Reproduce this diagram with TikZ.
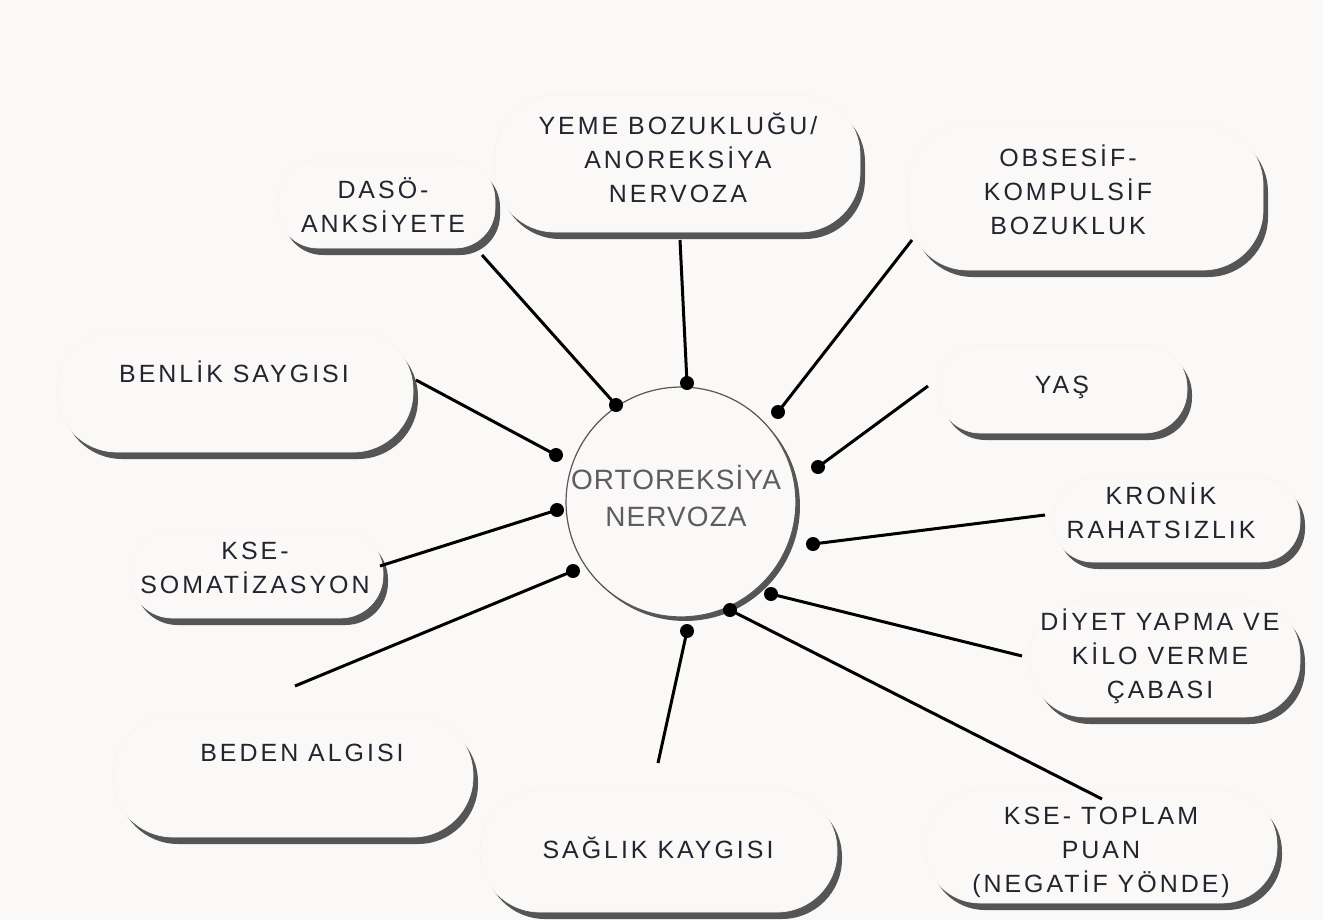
\documentclass[tikz,border=0pt]{standalone}
\usepackage{fontspec}
\usetikzlibrary{calc}
\newfontfamily\lblfont[LetterSpace=12]{Liberation Sans}
\newfontfamily\midfont[LetterSpace=4]{Liberation Sans}
\definecolor{paper}{RGB}{250,249,247}
\definecolor{shadowgray}{RGB}{85,85,85}
\definecolor{lbltext}{RGB}{36,36,48}
\definecolor{midtext}{RGB}{92,92,98}
\tikzset{
  lbl/.style={align=center, text=lbltext, inner sep=0pt, font=\lblfont\fontsize{14.2}{19.3}\selectfont},
  joint/.style={circle, fill=black, inner sep=0pt, minimum size=0.28cm},
  spoke/.style={line width=0.06cm, black},
  paper edge/.style={fill=paper, draw=black!4, line width=0.4pt}
}
% bubble with its drop shadow: (top left)(bottom right)[corner]
\def\bubble(#1)(#2)[#3]{%
  \fill[shadowgray, rounded corners=#3] ($(#1)+(5,7)$) rectangle ($(#2)+(5,7)$);
  \draw[paper edge, rounded corners=#3] (#1) rectangle (#2);}

\begin{document}
\begin{tikzpicture}[x=0.02cm, y=-0.02cm]
		%%%%% START %%%%%
		\useasboundingbox (0,0) rectangle (1323,920);
		\fill[paper] (0,0) rectangle (1323,920);
		
		\bubble(278,160)(495,248)[0.8cm]
		\bubble(495,95)(860,232)[1.2cm]
		\bubble(908,125)(1263,270)[1.2cm]
		\bubble(57,330)(413,452)[1.2cm]
		\bubble(938,345)(1187,433)[0.85cm]
		\bubble(1053,478)(1300,562)[0.8cm]
		\bubble(130,530)(383,618)[0.85cm]
		\bubble(1030,600)(1300,717)[1.1cm]
		\bubble(113,715)(473,837)[1.2cm]
		\bubble(480,790)(837,912)[1.2cm]
		\bubble(925,790)(1277,903)[1.1cm]
		
		\node[lbl] (daso) at (383,205) {DASÖ-\\ANKSİYETE};
		\node[lbl] (yeme) at (678,158) {YEME BOZUKLUĞU/\\ANOREKSİYA\\NERVOZA};
		\node[lbl] (obsesif) at (1068,190) {OBSESİF-\\KOMPULSİF\\BOZUKLUK};
		\node[lbl] (benlik) at (234,372) {BENLİK SAYGISI};
		\node[lbl] (yas) at (1062,387) {YAŞ};
		\node[lbl] (kronik) at (1161,511) {KRONİK\\RAHATSIZLIK};
		\node[lbl] (somat) at (255,568) {KSE-\\SOMATİZASYON};
		\node[lbl] (diyet) at (1160,656) {DİYET YAPMA VE\\KİLO VERME\\ÇABASI};
		\node[lbl] (beden) at (302,753) {BEDEN ALGISI};
		\node[lbl] (saglik) at (658,848) {SAĞLIK KAYGISI};
		\node[lbl] (toplam) at (1101,852) {KSE- TOPLAM\\PUAN\\(NEGATİF YÖNDE)};
		
		% centre circle
		\fill[shadowgray] (685,506) circle (2.3cm);
		\draw[fill=paper, draw=black!65, line width=0.7pt] (681,502) circle (2.3cm);
		\node[align=center, text=midtext, inner sep=0pt, font=\midfont\fontsize{15.9}{21.5}\selectfont] (orto) at (676,496) {ORTOREKSİYA\\NERVOZA};
		
		% joints on the circle
		\node[joint] (jdaso) at (616,405) {};
		\node[joint] (jyeme) at (687,383) {};
		\node[joint] (jobsesif) at (778,412) {};
		\node[joint] (jbenlik) at (556,455) {};
		\node[joint] (jyas) at (818,467) {};
		\node[joint] (jkronik) at (813,544) {};
		\node[joint] (jsomat) at (557,510) {};
		\node[joint] (jbeden) at (573,571) {};
		\node[joint] (jdiyet) at (771,594) {};
		\node[joint] (jsaglik) at (687,631) {};
		\node[joint] (jtoplam) at (730,610) {};
		
		% free ends of the spokes
		\coordinate (edaso) at (482,255);
		\coordinate (eyeme) at (680,240);
		\coordinate (eobsesif) at (912,240);
		\coordinate (ebenlik) at (416,380);
		\coordinate (eyas) at (928,386);
		\coordinate (ekronik) at (1045,515);
		\coordinate (esomat) at (380,566);
		\coordinate (ebeden) at (295,686);
		\coordinate (ediyet) at (1022,656);
		\coordinate (esaglik) at (658,763);
		\coordinate (etoplam) at (1102,799);
		
		\foreach \s in {daso,yeme,obsesif,benlik,yas,kronik,somat,beden,diyet,saglik,toplam}
			\draw[spoke] (e\s) -- (j\s.center);
		
		%%%%% END %%%%%
\end{tikzpicture}
\end{document}
